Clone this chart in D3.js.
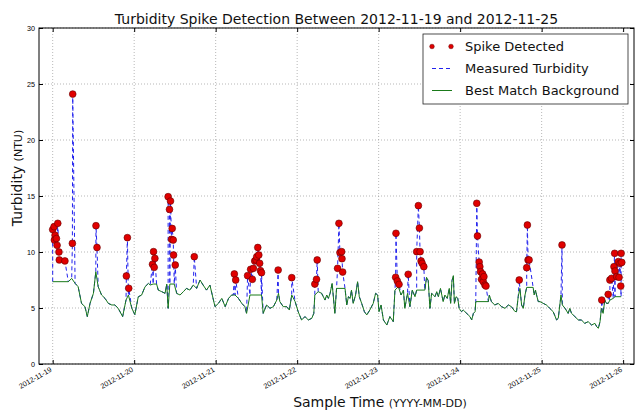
<!DOCTYPE html>
<html>
<head>
<meta charset="utf-8">
<script src="https://cdn.jsdelivr.net/npm/d3@7/dist/d3.min.js"></script>
<style>
  body { margin: 0; background: #fff; }
  svg { display: block; font-family: "DejaVu Sans", sans-serif; }
</style>
</head>
<body>
<div id="chart"></div>
<script>
// hours since 2012-11-19 00:00 and turbidity (NTU)
var backgroundData = [
  [0,7.35],[4.6,7.35],[5.6,7.64],[6.6,7.2],[7.5,6.9],[8.5,5.41],[9.5,5.12],[10.2,4.23],[11,5.41],[12,6.31],
  [12.7,8.24],[13.4,6.9],[14.4,6.16],[15.4,5.86],[16.4,5.41],[17.4,5.27],[18.3,5.27],[19.3,4.97],[20.6,4.23],
  [21.6,5.71],[22.3,6.16],[23.3,4.97],[24.2,4.41],[25.2,6.0],[26.2,6.16],[27.2,6.9],[28.2,7.2],[28.7,7.05],
  [29.6,7.14],[30.6,7.14],[31.1,6.6],[32.1,6.46],[33.1,6.31],[33.6,7.14],[34.0,4.97],[34.5,7.14],[35.8,7.14],
  [36.5,6.31],[37.5,6.16],[38.5,6.46],[39.4,6.75],[40.4,6.6],[41.4,7.05],[42.4,6.75],[43.4,7.5],[44.3,7.05],
  [45.3,6.6],[46.3,7.05],[47.0,6.16],[47.8,5.12],[48.8,5.41],[49.8,5.86],[50.8,5.12],[51.8,5.86],[52.7,6.16],
  [53.2,6.16],[53.7,6.16],[54.7,5.86],[55.7,5.41],[56.6,5.12],[57.1,4.52],[58.1,6.16],[61.5,6.16],[62.0,4.52],
  [63.0,5.27],[64.0,4.97],[65.0,5.12],[66.0,5.71],[66.5,6.31],[66.9,5.57],[67.9,5.12],[68.9,5.12],[69.7,4.82],
  [70.4,6.16],[71.4,5.57],[72.3,4.67],[73.3,3.93],[74.3,4.23],[75.3,3.93],[76.3,4.08],[76.9,4.52],[77.2,6.16],
  [78.2,6.46],[79.2,6.31],[80.2,5.71],[80.7,6.16],[81.2,5.86],[81.7,6.31],[82.3,7.2],[83.1,4.52],[83.6,6.75],
  [86.1,6.75],[86.6,5.27],[87.1,6.01],[87.6,5.86],[88.0,6.6],[88.5,5.41],[89.2,6.16],[89.8,7.35],[90.3,6.01],
  [91.0,5.41],[91.8,4.67],[92.5,4.38],[93.4,4.82],[94.4,5.41],[95.1,6.31],[95.7,6.16],[96.1,4.67],[96.7,5.27],
  [97.4,3.93],[98.4,3.48],[99.3,4.23],[100.3,3.78],[100.8,6.6],[101.8,6.9],[102.6,6.16],[103.3,6.6],[103.7,4.97],
  [104.5,6.31],[105.2,5.12],[105.9,6.6],[106.7,6.01],[107.2,6.6],[109.6,6.6],[110.1,7.74],[110.6,7.44],[111.1,4.97],
  [111.6,6.31],[112.6,6.01],[113.1,6.46],[113.6,6.01],[114.2,6.75],[115.0,5.57],[115.5,6.16],[116.2,5.86],
  [116.8,6.75],[117.2,5.41],[117.6,7.44],[118.0,7.89],[118.3,5.41],[118.8,6.01],[119.3,5.86],[119.7,4.97],
  [120.4,4.67],[120.9,4.82],[121.4,4.67],[122.4,4.38],[122.9,4.23],[123.4,3.93],[123.9,4.52],[124.4,4.67],
  [124.6,5.57],[128.3,5.57],[128.6,6.16],[129.2,5.57],[130.2,5.27],[131.2,5.41],[132.2,5.12],[133.2,4.97],
  [134.2,5.27],[135.1,5.12],[136.1,4.7],[136.6,4.67],[137.1,6.01],[137.6,6.75],[138.1,5.27],[138.6,4.97],
  [139.1,6.16],[139.6,6.84],[141.5,6.84],[141.8,6.16],[142.2,6.6],[142.5,6.16],[143.0,5.57],[143.5,5.57],
  [144.5,5.41],[145.4,5.27],[146.4,4.97],[147.4,4.67],[148.4,3.93],[148.9,4.08],[149.7,6.16],[150.1,5.27],
  [150.9,4.97],[151.8,4.52],[152.3,4.97],[152.8,4.52],[153.8,4.23],[154.8,3.93],[155.7,3.93],[156.7,3.63],
  [157.7,3.78],[158.7,3.48],[159.7,3.63],[160.2,3.34],[160.7,3.19],[161.2,3.78],[161.6,4.97],[162.1,4.52],
  [162.6,5.71],[163.1,5.41],[163.6,5.41],[164.1,5.71],[165.1,5.86],[165.6,6.01],[167.4,6.01]
];

var spikeData = [
  [0.0,12.0],[0.4,12.26],[0.5,11.07],[0.7,11.5],[1.1,11.2],[1.3,10.6],[1.5,12.56],[1.85,10.0],[1.95,9.29],
  [3.6,9.2],[5.8,10.77],[5.9,24.1],[12.75,12.35],[13.05,10.4],[21.7,7.86],[22.0,11.28],[22.4,6.76],
  [29.4,8.9],[29.7,10.03],[29.9,8.63],[30.1,9.43],[34.0,14.94],[34.4,13.8],[34.7,14.55],[35.0,11.13],
  [35.2,12.1],[35.5,11.07],[35.6,9.73],[36.1,8.84],[41.7,9.58],
  [53.5,8.04],[53.9,7.5],[57.4,7.89],[58.3,8.45],[58.8,7.56],[59.1,8.54],[59.5,9.2],[59.9,9.29],[60.1,9.58],
  [60.4,10.4],[60.7,9.73],[60.95,8.99],[61.2,8.33],[61.5,8.15],[66.4,8.39],[70.4,7.71],[77.2,7.14],
  [77.7,7.56],[77.9,9.29],
  [83.9,8.54],[84.3,12.56],[84.6,9.94],[85.1,10.03],[85.2,9.4],[85.4,8.21],[101.0,7.74],[101.1,11.67],
  [101.5,7.41],[102.0,7.11],[104.7,8.01],[107.2,10.03],[107.7,14.14],[108.0,12.14],[108.2,10.03],
  [108.5,9.2],[108.8,8.99],[109.3,8.69],
  [124.9,14.35],[125.1,11.43],[125.6,9.1],[125.8,8.69],[126.0,8.24],[126.3,7.56],[126.6,8.04],[126.8,7.35],
  [127.0,7.8],[127.3,7.05],[127.6,6.96],[137.4,7.5],[139.6,8.6],[139.8,12.41],[140.0,9.29],[140.3,9.29],
  [150.0,10.63],
  [161.7,5.71],[163.6,6.22],[164.1,7.5],[164.6,7.65],[165.3,8.69],[165.5,9.88],[165.6,8.3],[166.1,7.8],
  [166.6,9.14],[166.8,7.74],[167.1,8.99],[167.3,6.96],[167.4,9.88],[167.6,9.07]
];

var dayTicks = ["2012-11-19","2012-11-20","2012-11-21","2012-11-22","2012-11-23","2012-11-24","2012-11-25","2012-11-26"];
var yTicks = [0, 5, 10, 15, 20, 25, 30];
var legendLabels = ["Spike Detected", "Measured Turbidity", "Best Match Background"];

var W = 636, H = 410;
var margin = {top: 28, right: 2, bottom: 46, left: 39};
var w = W - margin.left - margin.right, h = H - margin.top - margin.bottom;

var start = new Date(2012, 10, 19);
function toDate(hr) { return new Date(start.getTime() + hr * 3600000); }
function parseDay(s) { var p = s.split("-"); return new Date(+p[0], +p[1] - 1, +p[2]); }

// measured series = background samples with the detected spikes merged in
var measuredData = backgroundData.concat(spikeData).slice().sort(function(a, b){ return a[0] - b[0]; });

var x = d3.scaleTime()
    .domain([toDate(-4.03), toDate(171.2)])
    .range([0, w]);
var y = d3.scaleLinear().domain([0, 30]).range([h, 0]);

var svg = d3.select("#chart").append("svg")
    .attr("width", W).attr("height", H);

var g = svg.append("g").attr("transform", "translate(" + margin.left + "," + margin.top + ")");

// grid
g.append("g").selectAll("line").data(dayTicks).enter().append("line")
    .attr("x1", function(d){ return x(parseDay(d)); })
    .attr("x2", function(d){ return x(parseDay(d)); })
    .attr("y1", 0).attr("y2", h)
    .attr("stroke", "#888").attr("stroke-width", 0.6).attr("stroke-dasharray", "1,2");
g.append("g").selectAll("line").data(yTicks).enter().append("line")
    .attr("x1", 0).attr("x2", w)
    .attr("y1", function(d){ return y(d); })
    .attr("y2", function(d){ return y(d); })
    .attr("stroke", "#888").attr("stroke-width", 0.6).attr("stroke-dasharray", "1,2");

var line = d3.line()
    .x(function(d){ return x(toDate(d[0])); })
    .y(function(d){ return y(d[1]); });

g.append("path").datum(measuredData)
    .attr("d", line)
    .attr("fill", "none").attr("stroke", "#2222ee").attr("stroke-width", 1)
    .attr("stroke-dasharray", "4,3");

g.append("path").datum(backgroundData)
    .attr("d", line)
    .attr("fill", "none").attr("stroke", "#1a7a1a").attr("stroke-width", 1);

g.append("g").selectAll("circle").data(spikeData).enter().append("circle")
    .attr("cx", function(d){ return x(toDate(d[0])); })
    .attr("cy", function(d){ return y(d[1]); })
    .attr("r", 3.4)
    .attr("fill", "#e00000").attr("stroke", "#660000").attr("stroke-width", 0.6);

// axes (ticks point inward, matplotlib classic look)
var xAxis = d3.axisBottom(x)
    .tickValues(dayTicks.map(parseDay))
    .tickFormat(d3.timeFormat("%Y-%m-%d"))
    .tickSizeInner(-4).tickSizeOuter(0);
var xg = g.append("g").attr("transform", "translate(0," + h + ")").call(xAxis);
xg.select(".domain").remove();
xg.selectAll("text")
    .attr("font-size", 7.2).attr("fill", "#000")
    .attr("text-anchor", "end")
    .attr("dy", null).attr("y", 0)
    .attr("transform", "translate(-1,7) rotate(-30)");

g.append("g").call(d3.axisTop(x).tickValues(dayTicks.map(parseDay)).tickFormat("").tickSizeInner(-4).tickSizeOuter(0))
    .select(".domain").remove();

var yg = g.append("g").call(d3.axisLeft(y).tickValues(yTicks).tickSizeInner(-4).tickSizeOuter(0).tickPadding(4));
yg.select(".domain").remove();
yg.selectAll("text").attr("font-size", 7.2).attr("fill", "#000");

g.append("g").attr("transform", "translate(" + w + ",0)")
    .call(d3.axisRight(y).tickValues(yTicks).tickFormat("").tickSizeInner(-4).tickSizeOuter(0))
    .select(".domain").remove();

g.append("rect").attr("width", w).attr("height", h)
    .attr("fill", "none").attr("stroke", "#000").attr("stroke-width", 1);

// title and labels
svg.append("text").attr("x", margin.left + w / 2).attr("y", 24)
    .attr("text-anchor", "middle").attr("font-size", 14).attr("fill", "#111")
    .text("Turbidity Spike Detection Between 2012-11-19 and 2012-11-25");

var xl = svg.append("text").attr("x", 380).attr("y", 407)
    .attr("text-anchor", "middle").attr("fill", "#111");
xl.append("tspan").attr("font-size", 14).text("Sample Time ");
xl.append("tspan").attr("font-size", 11).text("(YYYY-MM-DD)");

var yl = svg.append("text").attr("transform", "translate(22,178) rotate(-90)")
    .attr("text-anchor", "middle").attr("fill", "#111");
yl.append("tspan").attr("font-size", 14).text("Turbidity ");
yl.append("tspan").attr("font-size", 11).text("(NTU)");

// legend
var lg = svg.append("g").attr("transform", "translate(423,34)");
lg.append("rect").attr("width", 205).attr("height", 70)
    .attr("fill", "#fff").attr("stroke", "#222").attr("stroke-width", 0.8);
var rows = lg.selectAll("g.row").data(legendLabels).enter().append("g")
    .attr("transform", function(d, i){ return "translate(0," + (12.5 + i * 22) + ")"; });
rows.append("text").attr("x", 42).attr("y", 4.5).attr("font-size", 13).attr("fill", "#111")
    .text(function(d){ return d; });
var r0 = d3.select(rows.nodes()[0]);
r0.selectAll("circle").data([9, 28]).enter().append("circle")
    .attr("cx", function(d){ return d; }).attr("cy", 0).attr("r", 2.3)
    .attr("fill", "#e00000").attr("stroke", "#660000").attr("stroke-width", 0.5);
d3.select(rows.nodes()[1]).append("line").attr("x1", 9).attr("x2", 29).attr("y1", 0).attr("y2", 0)
    .attr("stroke", "#2222ee").attr("stroke-width", 1).attr("stroke-dasharray", "4,3");
d3.select(rows.nodes()[2]).append("line").attr("x1", 9).attr("x2", 29).attr("y1", 0).attr("y2", 0)
    .attr("stroke", "#1a7a1a").attr("stroke-width", 1);
</script>
</body>
</html>
